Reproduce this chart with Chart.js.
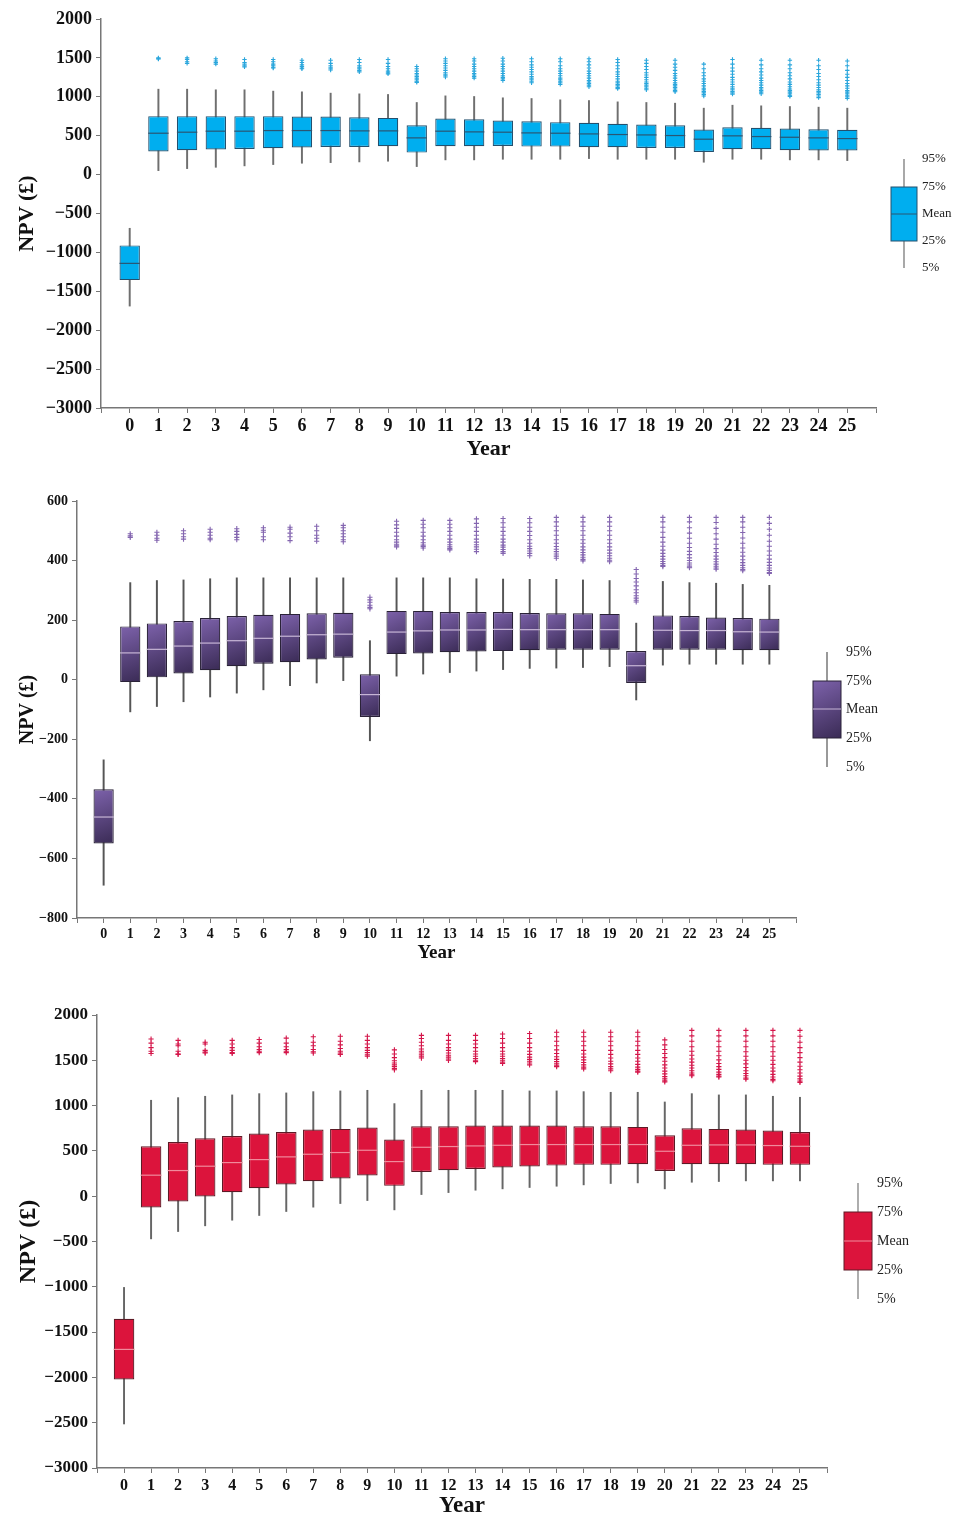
<!doctype html>
<html>
<head>
<meta charset="utf-8">
<title>NPV box plots</title>
<script src="https://cdn.jsdelivr.net/npm/chart.js@4.4.1/dist/chart.umd.min.js"></script>
<style>
  body { margin: 0; background: #fff; }
  #wrap { position: relative; width: 953px; height: 1520px; }
  canvas { position: absolute; left: 0; }
</style>
</head>
<body>
<div id="wrap">
  <canvas id="c1" width="953" height="480" style="top:0px"></canvas>
  <canvas id="c2" width="953" height="500" style="top:480px"></canvas>
  <canvas id="c3" width="953" height="540" style="top:980px"></canvas>
</div>
<script>
// ---- data ----
var years = [0,1,2,3,4,5,6,7,8,9,10,11,12,13,14,15,16,17,18,19,20,21,22,23,24,25];
var legendLabels = ['95%', '75%', 'Mean', '25%', '5%'];

// panel 1 (blue)
var yTicks1 = [-3000,-2500,-2000,-1500,-1000,-500,0,500,1000,1500,2000];
var p95_1  = [-690,1098,1098,1090,1090,1073,1064,1047,1038,1030,927,1012,1004,987,978,961,952,935,927,918,854,892,884,875,867,854];
var q3_1   = [-910,751,751,751,751,751,746,746,738,729,635,721,712,695,686,674,665,652,644,635,579,609,601,592,583,575];
var mean_1 = [-1141,532,545,558,558,566,566,566,562,562,472,558,549,545,536,532,523,515,510,502,455,498,489,480,472,463];
var q1_1   = [-1356,296,313,322,330,339,348,356,356,365,283,365,365,369,360,360,352,352,343,343,292,326,326,313,309,309];
var p5_1   = [-1690,51,77,94,112,129,146,154,163,172,103,189,189,197,197,197,206,197,197,197,159,197,197,189,189,180];
var out_1 = [
  [],
  [1500,1490,1485],
  [1500,1480,1450,1430],
  [1490,1460,1440,1420],
  [1480,1440,1420,1400,1385],
  [1480,1450,1420,1400,1380,1370],
  [1470,1440,1410,1390,1370,1360],
  [1470,1430,1400,1380,1360,1345],
  [1480,1440,1400,1380,1360,1340,1320],
  [1480,1430,1390,1360,1330,1310,1295],
  [1390,1360,1330,1300,1280,1260,1240,1220,1200,1185],
  [1490,1460,1430,1400,1370,1340,1310,1290,1270,1255],
  [1490,1460,1420,1390,1360,1330,1300,1280,1260,1240],
  [1495,1460,1420,1390,1360,1330,1300,1270,1250,1230,1210],
  [1490,1450,1410,1380,1350,1320,1290,1260,1240,1220,1200,1180],
  [1490,1450,1400,1360,1330,1300,1270,1240,1220,1200,1180,1160],
  [1490,1450,1410,1370,1330,1300,1270,1240,1210,1190,1170,1150,1130],
  [1480,1440,1400,1360,1320,1290,1260,1230,1200,1180,1160,1140,1120,1105],
  [1470,1430,1390,1350,1310,1280,1250,1220,1190,1170,1150,1130,1110,1090],
  [1470,1420,1380,1340,1300,1270,1240,1210,1180,1160,1140,1120,1100,1080,1065],
  [1420,1360,1310,1270,1230,1200,1170,1140,1110,1090,1070,1050,1030,1010],
  [1480,1420,1370,1330,1290,1250,1220,1190,1160,1130,1110,1090,1070,1050,1035],
  [1470,1410,1360,1320,1280,1240,1210,1180,1150,1120,1100,1080,1060,1040],
  [1470,1410,1360,1310,1270,1230,1190,1160,1130,1100,1080,1060,1040,1020,1005],
  [1470,1400,1350,1300,1260,1220,1180,1150,1120,1090,1070,1050,1030,1010,990],
  [1460,1400,1340,1290,1250,1210,1170,1140,1110,1080,1060,1040,1020,1000,980]
];

// panel 2 (purple)
var yTicks2 = [-800,-600,-400,-200,0,200,400,600];
var p95_2  = [-269,326,333,335,339,342,342,342,342,342,131,342,342,342,339,338,337,337,335,333,190,330,326,324,320,317];
var q3_2   = [-368,179,189,197,207,214,218,221,223,225,18,231,231,227,227,227,224,223,223,221,96,216,214,209,207,205];
var mean_2 = [-461,90,102,113,123,131,139,146,151,153,-50,160,164,167,167,169,168,168,168,168,47,166,165,165,161,160];
var q1_2   = [-550,-8,8,21,32,45,54,59,68,74,-125,86,88,92,95,96,99,101,101,101,-11,101,101,101,99,99];
var p5_2   = [-690,-108,-90,-74,-58,-45,-34,-20,-11,-3,-205,12,19,24,29,34,38,39,41,44,-68,49,52,52,52,52];
var out_2 = [
  [],
  [490,483,478],
  [495,485,475,468],
  [500,490,480,472],
  [505,495,485,475,470],
  [507,498,488,478,470],
  [510,502,495,480,470],
  [512,505,492,480,467],
  [515,500,485,475,465],
  [518,510,500,490,480,470,463],
  [277,268,260,250,243,238],
  [532,520,508,495,482,470,462,455,450,446],
  [535,522,510,495,482,470,460,452,447,442],
  [535,522,510,498,485,472,462,453,446,440,436],
  [540,525,512,498,485,472,462,453,446,438,430],
  [541,527,512,498,485,472,462,452,445,437,430,424],
  [541,527,512,498,484,470,458,448,440,432,424,416],
  [545,530,515,500,485,470,458,447,438,430,422,415,408],
  [545,530,515,500,485,470,458,446,436,427,419,411,404,399],
  [545,530,515,500,485,470,458,446,435,425,416,408,401,396],
  [370,355,340,328,315,302,292,282,274,267,261],
  [545,530,512,495,478,462,448,435,424,414,405,397,390,384,380],
  [545,530,510,492,475,458,444,431,420,409,400,392,385,379,376],
  [545,528,508,490,472,455,440,427,415,405,396,388,381,375,371],
  [545,530,512,494,476,458,442,428,415,403,393,384,376,370,366],
  [545,525,505,485,465,448,432,418,405,394,384,375,367,360,357]
];

// panel 3 (red)
var yTicks3 = [-3000,-2500,-2000,-1500,-1000,-500,0,500,1000,1500,2000];
var p95_3  = [-1007,1059,1088,1103,1118,1132,1140,1154,1162,1169,1022,1169,1169,1169,1169,1162,1162,1154,1147,1147,1040,1132,1118,1118,1103,1092];
var q3_3   = [-1353,551,599,640,665,691,709,735,743,757,625,772,772,779,779,779,779,772,772,765,673,750,743,735,724,709];
var mean_3 = [-1691,232,283,331,371,404,434,463,482,507,382,540,548,555,562,570,570,570,570,570,496,562,566,566,559,551];
var q1_3   = [-2022,-125,-59,-4,44,88,129,165,195,228,114,268,287,301,316,327,338,346,346,353,279,353,353,353,346,346];
var p5_3   = [-2514,-471,-390,-327,-265,-213,-169,-121,-81,-48,-151,18,40,66,81,96,110,125,140,147,81,154,162,169,169,169];
var out_3 = [
  [],
  [1735,1690,1640,1600,1575],
  [1720,1680,1660,1600,1570,1565],
  [1700,1680,1610,1590,1580],
  [1720,1680,1640,1610,1585,1575],
  [1730,1690,1650,1620,1600,1585],
  [1745,1690,1650,1620,1600,1585],
  [1760,1700,1660,1620,1595,1580],
  [1765,1710,1670,1630,1600,1580,1565],
  [1765,1720,1680,1640,1610,1585,1560,1545],
  [1615,1570,1530,1495,1470,1450,1430,1410,1395],
  [1775,1740,1700,1660,1625,1600,1580,1560,1540,1525],
  [1775,1720,1680,1640,1610,1580,1555,1535,1515,1500],
  [1775,1720,1680,1640,1600,1570,1545,1520,1500,1485],
  [1790,1740,1690,1640,1600,1570,1545,1520,1500,1480,1465],
  [1795,1740,1690,1640,1600,1565,1535,1510,1490,1470,1450],
  [1810,1760,1710,1660,1615,1575,1540,1510,1485,1460,1440,1430],
  [1810,1760,1710,1660,1610,1570,1535,1505,1475,1450,1425,1405],
  [1810,1760,1710,1660,1610,1565,1525,1490,1460,1430,1405,1385],
  [1810,1760,1710,1660,1610,1565,1525,1490,1455,1425,1400,1380,1370],
  [1725,1670,1620,1575,1530,1490,1450,1415,1380,1350,1320,1295,1275,1262],
  [1830,1770,1710,1650,1600,1555,1515,1480,1445,1415,1385,1360,1340,1330],
  [1830,1770,1710,1650,1600,1550,1505,1465,1430,1400,1370,1345,1325,1315],
  [1830,1770,1710,1650,1595,1545,1500,1460,1420,1385,1355,1330,1305,1292],
  [1830,1770,1710,1650,1595,1545,1500,1455,1415,1380,1345,1315,1290,1275],
  [1830,1765,1700,1640,1585,1530,1480,1435,1395,1360,1325,1295,1270,1255]
];

// ---- helpers ----
var SERIF = '"Liberation Serif", "Times New Roman", serif';

function fmt(v) {
  return v < 0 ? '\u2212' + Math.abs(v) : String(v);
}

function purpleFill(c1, c2) {
  // light purple top-left -> dark bottom-right, per box
  return function(ctx) {
    var chart = ctx.chart;
    if (!chart.chartArea || !ctx.raw) return c1;
    var xs = chart.scales.x, ys = chart.scales.y;
    var x = xs.getPixelForValue(ctx.raw.x);
    var top = ys.getPixelForValue(ctx.raw.y[1]);
    var bot = ys.getPixelForValue(ctx.raw.y[0]);
    var g = chart.ctx.createLinearGradient(x - 10, top, x + 10, bot);
    g.addColorStop(0, c1);
    g.addColorStop(1, c2);
    return g;
  };
}

// legend key drawn on the right of each panel
function keyPlugin(k) {
  return {
    id: 'boxKey',
    afterDraw: function(chart) {
      var c = chart.ctx;
      c.save();
      c.strokeStyle = k.whisker;
      c.lineWidth = 1.2;
      c.beginPath();
      c.moveTo(k.cx, k.ys[0]); c.lineTo(k.cx, k.ys[4]);
      c.stroke();
      var x0 = k.cx - k.w / 2;
      if (k.grad) {
        var g = c.createLinearGradient(x0, k.ys[1], x0 + k.w, k.ys[3]);
        g.addColorStop(0, k.grad[0]); g.addColorStop(1, k.grad[1]);
        c.fillStyle = g;
      } else {
        c.fillStyle = k.fill;
      }
      c.fillRect(x0, k.ys[1], k.w, k.ys[3] - k.ys[1]);
      c.strokeStyle = k.border;
      c.lineWidth = 1;
      c.strokeRect(x0, k.ys[1], k.w, k.ys[3] - k.ys[1]);
      c.strokeStyle = k.meanColor;
      c.beginPath();
      c.moveTo(x0, k.ys[2]); c.lineTo(x0 + k.w, k.ys[2]);
      c.stroke();
      c.fillStyle = '#222';
      c.font = k.font + 'px ' + SERIF;
      c.textBaseline = 'middle';
      c.textAlign = 'left';
      for (var i = 0; i < legendLabels.length; i++) {
        c.fillText(legendLabels[i], k.tx, k.ys[i]);
      }
      c.restore();
    }
  };
}

function makePanel(id, p) {
  var boxes = [], whisk = [], means = [], outs = [];
  for (var i = 0; i < years.length; i++) {
    boxes.push({x: years[i], y: [p.q1[i], p.q3[i]]});
    whisk.push({x: years[i], y: [p.p5[i], p.p95[i]]});
    means.push({x: years[i], y: p.mean[i]});
    for (var j = 0; j < p.out[i].length; j++) outs.push({x: years[i], y: p.out[i][j]});
  }
  var ticks = p.yTicks;
  new Chart(document.getElementById(id), {
    type: 'bar',
    data: {
      datasets: [
        { data: whisk, backgroundColor: p.whisker, barThickness: 1.3, grouped: false, order: 4 },
        { data: boxes, backgroundColor: p.fill, borderColor: p.border, borderWidth: 1.2,
          borderSkipped: false, barPercentage: p.barPct, categoryPercentage: 1, grouped: false, order: 3 },
        { type: 'scatter', data: means, pointStyle: 'line', pointRadius: p.meanR,
          borderColor: p.meanColor, pointBorderColor: p.meanColor, pointBorderWidth: 1.2, order: 2 },
        { type: 'scatter', data: outs, pointStyle: 'cross', pointRadius: p.outR,
          borderColor: p.outColor, pointBorderColor: p.outColor, pointBorderWidth: 1.1, order: 1 }
      ]
    },
    options: {
      responsive: false,
      animation: false,
      events: [],
      layout: { padding: { top: p.pad[0], right: p.pad[1], bottom: 0, left: 0 } },
      plugins: { legend: { display: false }, tooltip: { enabled: false } },
      scales: {
        x: {
          type: 'linear', min: -1, max: 26, offset: false,
          grid: { drawOnChartArea: false, drawTicks: true, tickLength: 5, color: '#777', offset: false },
          border: { display: true, color: '#777', width: 1.5 },
          ticks: {
            stepSize: 1, autoSkip: false, maxRotation: 0, padding: 3, color: '#111',
            font: { family: SERIF, weight: 'bold', size: p.xFont },
            callback: function(v) { return (v < 0 || v > 25) ? '' : String(v); }
          },
          title: { display: true, text: 'Year', color: '#111',
                   font: { family: SERIF, weight: 'bold', size: p.xTitle },
                   padding: { top: 0, bottom: p.xTitlePad } },
          afterFit: function(s) { s.height = p.xH; s.paddingLeft = 0; s.paddingRight = 0; }
        },
        y: {
          min: ticks[0], max: ticks[ticks.length - 1],
          grid: { drawOnChartArea: false, drawTicks: true, tickLength: 5, color: '#777' },
          border: { display: true, color: '#777', width: 1.5 },
          ticks: {
            stepSize: ticks[1] - ticks[0], padding: 4, color: '#111',
            font: { family: SERIF, weight: 'bold', size: p.yFont },
            callback: function(v) { return fmt(v); }
          },
          title: { display: true, text: 'NPV (£)', color: '#111',
                   font: { family: SERIF, weight: 'bold', size: p.yTitle },
                   padding: { top: p.yTitlePad, bottom: 0 } },
          afterFit: function(s) { s.width = p.yW; s.paddingTop = 0; s.paddingBottom = 0; }
        }
      }
    },
    plugins: [keyPlugin(p.key)]
  });
}

makePanel('c1', {
  yTicks: yTicks1, p95: p95_1, q3: q3_1, mean: mean_1, q1: q1_1, p5: p5_1, out: out_1,
  fill: '#00AEEF', border: '#24506e', meanColor: '#2a5673', whisker: '#6f6f6f',
  outColor: '#2aa6dc', outR: 2.2, meanR: 10.2, barPct: 0.71,
  pad: [19, 77], yW: 101, xH: 72, xFont: 18, yFont: 18, xTitle: 22, xTitlePad: 17, yTitle: 22, yTitlePad: 14,
  key: { cx: 904, w: 26, ys: [159, 187, 214, 241, 268], tx: 922, font: 13,
         fill: '#00AEEF', border: '#24506e', meanColor: '#2a5673', whisker: '#6f6f6f' }
});

makePanel('c2', {
  yTicks: yTicks2, p95: p95_2, q3: q3_2, mean: mean_2, q1: q1_2, p5: p5_2, out: out_2,
  fill: purpleFill('#7d62ab', '#3a2b55'), border: '#2a2238', meanColor: '#c7b6d6', whisker: '#555555',
  outColor: '#8466b0', outR: 2.6, meanR: 10.2, barPct: 0.76,
  pad: [21, 157], yW: 77, xH: 62, xFont: 14, yFont: 14, xTitle: 19, xTitlePad: 16, yTitle: 20, yTitlePad: 16,
  key: { cx: 827, w: 28, ys: [172, 201, 229, 258, 287], tx: 846, font: 14,
         grad: ['#7d62ab', '#3a2b55'], border: '#2a2238', meanColor: '#c7b6d6', whisker: '#555555' }
});

makePanel('c3', {
  yTicks: yTicks3, p95: p95_3, q3: q3_3, mean: mean_3, q1: q1_3, p5: p5_3, out: out_3,
  fill: '#DC143C', border: '#5e1a26', meanColor: '#f08b9c', whisker: '#666666',
  outColor: '#d4164a', outR: 2.6, meanR: 10.4, barPct: 0.76,
  pad: [35, 126], yW: 97, xH: 52, xFont: 16, yFont: 17, xTitle: 23, xTitlePad: 0, yTitle: 24, yTitlePad: 14,
  key: { cx: 858, w: 28, ys: [203, 232, 261, 290, 319], tx: 877, font: 14,
         fill: '#DC143C', border: '#5e1a26', meanColor: '#f08b9c', whisker: '#777777' }
});
</script>
</body>
</html>
